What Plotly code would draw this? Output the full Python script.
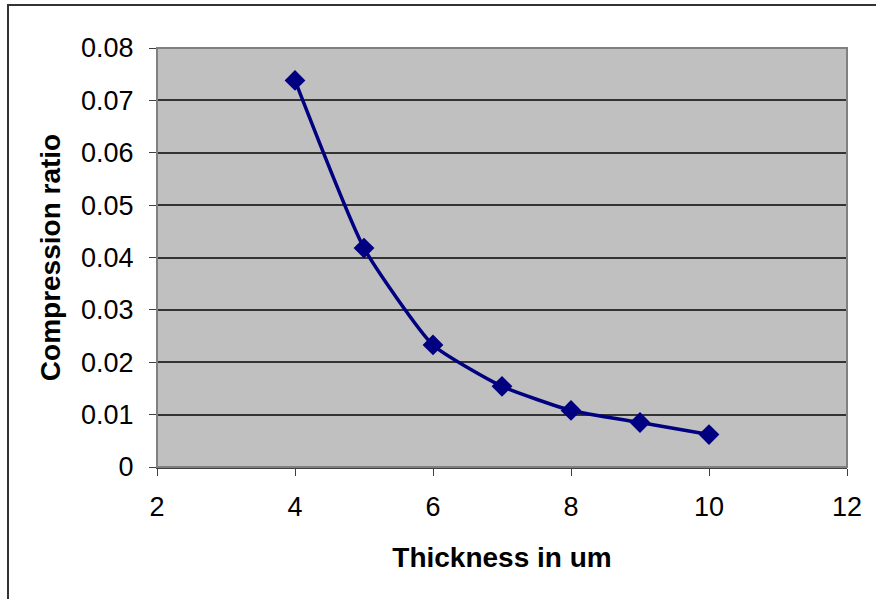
import plotly.graph_objects as go

thickness = [4, 5, 6, 7, 8, 9, 10]
compression_ratio = [0.0738, 0.0418, 0.0233, 0.0154, 0.0108, 0.0085, 0.0062]

x_ticks = [2, 4, 6, 8, 10, 12]
y_ticks = [0, 0.01, 0.02, 0.03, 0.04, 0.05, 0.06, 0.07, 0.08]
y_tick_text = ["0", "0.01", "0.02", "0.03", "0.04", "0.05", "0.06", "0.07", "0.08"]

W, H = 876, 599
L, R, T, B = 157, 29, 48, 132
pw, ph = W - L - R, H - T - B

def px_x(p):
    return (p - L) / pw

def px_y(p):
    return (H - B - p) / ph

fig = go.Figure()
fig.add_trace(go.Scatter(
    x=thickness, y=compression_ratio,
    mode="lines+markers",
    line=dict(color="#000080", width=3.5, shape="spline", smoothing=0.5),
    marker=dict(symbol="diamond", size=16, color="#000080"),
    showlegend=False,
))

font = "Liberation Sans, Arial, sans-serif"
fig.update_layout(
    width=W, height=H,
    margin=dict(l=L, r=R, t=T, b=B),
    paper_bgcolor="white",
    plot_bgcolor="#C0C0C0",
    font=dict(family=font, color="black"),
    xaxis=dict(
        range=[2, 12], tickvals=x_ticks, ticktext=[str(v) for v in x_ticks],
        showgrid=False, zeroline=False,
        showline=True, linecolor="#404040", linewidth=2, mirror=False,
        ticks="outside", ticklen=7, tickcolor="#404040", tickwidth=1,
        ticklabelstandoff=8,
        tickfont=dict(size=27, family=font),
        title=dict(text="<b>Thickness in um</b>", font=dict(size=28, family=font), standoff=26),
    ),
    yaxis=dict(
        range=[0, 0.08], tickvals=y_ticks, ticktext=y_tick_text,
        showgrid=True, gridcolor="#333333", gridwidth=1.5, zeroline=False,
        showline=True, linecolor="#404040", linewidth=1,
        ticks="outside", ticklen=7, tickcolor="#404040", tickwidth=1,
        ticklabelstandoff=10,
        tickfont=dict(size=27, family=font),
        title=dict(text="<b>Compression ratio</b>", font=dict(size=28, family=font), standoff=12),
    ),
    shapes=[
        dict(type="rect", xref="paper", yref="paper",
             x0=px_x(L), x1=px_x(W - R), y0=px_y(H - B), y1=px_y(T),
             line=dict(color="#808080", width=2), layer="above"),
        dict(type="rect", xref="paper", yref="paper",
             x0=px_x(8), x1=px_x(W + 10), y0=px_y(H + 10), y1=px_y(5),
             line=dict(color="#333333", width=2)),
    ],
)
fig.write_html("out.html")
